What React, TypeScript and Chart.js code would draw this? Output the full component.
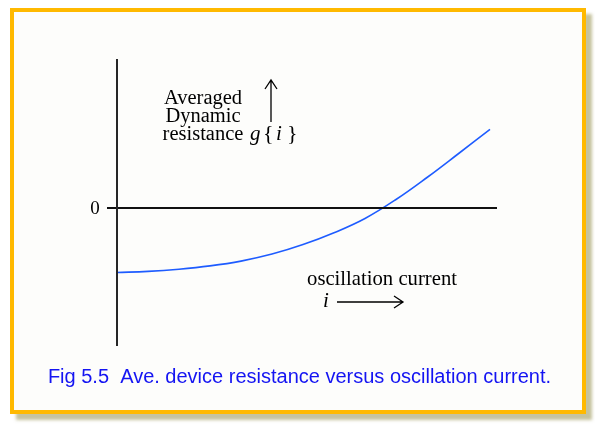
import React, { useEffect, useRef } from "react";
import { Chart, registerables } from "chart.js";

Chart.register(...registerables);

// oscillation current i (arbitrary units) and averaged dynamic resistance g{i}
const currentI = [0, 3.1, 6.2, 9.3, 12.4, 15.5, 18.6, 21.7, 24.8, 27.9, 31.0, 34.1, 37.3];
const resistanceG = [-6.45, -6.34, -6.12, -5.79, -5.31, -4.61, -3.66, -2.48, -1.05, 0.85, 3.05, 5.4, 7.86];

const xMin = -1;
const xMax = 38;
const yMin = -13.8;
const yMax = 14.9;

const yLabelLines = ["Averaged", "Dynamic", "resistance"];
const xLabel = "oscillation current";
const zeroLabel = "0";
const caption = "Fig 5.5  Ave. device resistance versus oscillation current.";

const SERIF = "'Liberation Serif', 'Times New Roman', serif";
const SANS = "'Liberation Sans', Arial, sans-serif";

const textPlugin = {
  id: "annotText",
  afterDraw(chart: any) {
    const ctx = chart.ctx as CanvasRenderingContext2D;
    const xs = chart.scales.x;
    const ys = chart.scales.y;
    const ox = xs.getPixelForValue(0);
    const oy = ys.getPixelForValue(0);
    ctx.save();
    ctx.fillStyle = "#000";
    ctx.strokeStyle = "#000";
    ctx.textBaseline = "alphabetic";

    // zero label
    ctx.font = `19px ${SERIF}`;
    ctx.textAlign = "center";
    ctx.textBaseline = "middle";
    ctx.fillText(zeroLabel, ox - 22, oy + 1);
    ctx.textBaseline = "alphabetic";

    // y label block
    ctx.font = `20.5px ${SERIF}`;
    const cx = ox + 86;
    yLabelLines.forEach((t, k) => {
      ctx.fillText(t, cx, oy - 104 + k * 18);
    });
    // g{i}
    ctx.textAlign = "left";
    const by = oy - 68;
    ctx.font = `italic 21px ${SERIF}`;
    ctx.fillText("g", ox + 133, by);
    ctx.font = `22px ${SERIF}`;
    ctx.fillText("{", ox + 146, by);
    ctx.font = `italic 21px ${SERIF}`;
    ctx.fillText("i", ox + 159, by);
    ctx.font = `22px ${SERIF}`;
    ctx.fillText("}", ox + 170, by);

    // up arrow
    ctx.lineWidth = 1.3;
    const ax = ox + 154;
    ctx.beginPath();
    ctx.moveTo(ax, oy - 86);
    ctx.lineTo(ax, oy - 128);
    ctx.moveTo(ax - 6, oy - 119);
    ctx.lineTo(ax, oy - 128);
    ctx.lineTo(ax + 6, oy - 119);
    ctx.stroke();

    // x label
    ctx.font = `20.7px ${SERIF}`;
    ctx.textAlign = "center";
    ctx.fillText(xLabel, ox + 265, oy + 77);
    ctx.font = `italic 21px ${SERIF}`;
    ctx.textAlign = "left";
    ctx.fillText("i", ox + 206, oy + 99);
    // right arrow
    const ay = oy + 94;
    ctx.beginPath();
    ctx.moveTo(ox + 220, ay);
    ctx.lineTo(ox + 286, ay);
    ctx.moveTo(ox + 277, ay - 6);
    ctx.lineTo(ox + 286, ay);
    ctx.lineTo(ox + 277, ay + 6);
    ctx.stroke();

    // caption
    ctx.font = `20px ${SANS}`;
    ctx.fillStyle = "#1414F2";
    ctx.textAlign = "center";
    ctx.fillText(caption, 299.5, 383);
    ctx.restore();
  },
};

export default function App() {
  const ref = useRef<HTMLCanvasElement | null>(null);
  useEffect(() => {
    if (!ref.current) return;
    const chart = new Chart(ref.current, {
      type: "scatter",
      data: {
        datasets: [
          {
            data: [
              { x: 0, y: yMin },
              { x: 0, y: yMax },
            ],
            showLine: true,
            borderColor: "#262626",
            borderWidth: 2,
            pointRadius: 0,
            clip: false,
          } as any,
          {
            data: [
              { x: xMin, y: 0 },
              { x: xMax, y: 0 },
            ],
            showLine: true,
            borderColor: "#111",
            borderWidth: 1.8,
            pointRadius: 0,
            clip: false,
          } as any,
          {
            data: currentI.map((v, k) => ({ x: v, y: resistanceG[k] })),
            showLine: true,
            borderColor: "#1E5CFF",
            borderWidth: 1.6,
            pointRadius: 0,
            tension: 0.4,
            clip: false,
          } as any,
        ],
      },
      options: {
        animation: false,
        responsive: false,
        devicePixelRatio: 1,
        layout: { padding: { left: 107, right: 98, top: 59, bottom: 79 } },
        plugins: { legend: { display: false }, tooltip: { enabled: false }, title: { display: false } },
        events: [],
        scales: {
          x: { type: "linear", min: xMin, max: xMax, display: false },
          y: { type: "linear", min: yMin, max: yMax, display: false },
        },
      },
      plugins: [textPlugin],
    });
    return () => chart.destroy();
  }, []);

  return (
    <div style={{ position: "absolute", left: 0, top: 0, width: 595, height: 425, background: "#fff" }}>
      <div
        style={{
          position: "absolute",
          left: 10,
          top: 8,
          width: 576,
          height: 406,
          boxSizing: "border-box",
          border: "4px solid #FFB900",
          background: "#FDFDFB",
          boxShadow: "6px 6px 3px rgba(150,145,80,0.55)",
        }}
      />
      <canvas ref={ref} width={595} height={425} style={{ position: "absolute", left: 0, top: 0 }} />
    </div>
  );
}
